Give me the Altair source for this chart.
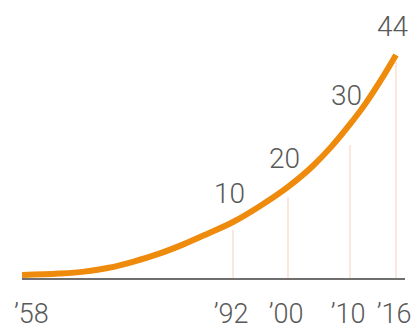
import altair as alt
import pandas as pd

# Curve (years and values)
curve_years = [1958, 1964, 1968, 1972, 1976, 1980, 1984, 1988, 1992,
               1996, 2000, 2004, 2007, 2010, 2012, 2014, 2016]
curve_values = [0.78, 1.06, 1.45, 2.2, 3.43, 4.93, 6.8, 8.95, 11.2,
                14.4, 18.1, 22.2, 26.0, 30.4, 34.4, 39.0, 44.0]

# Marked years, their labels and the heights of the thin guide lines
marked_years = [1992, 2000, 2010, 2016]
marked_labels = ["10", "20", "30", "44"]
guide_tops = [9.6, 16.1, 26.3, 42.6]

# Axis tick labels
tick_years = [1958, 1992, 2000, 2010, 2016]
tick_labels = ["\u201958", "\u201992", "\u201900", "\u201910", "\u201916"]

# Baseline extent
base_span = [1958, 2017.2]

curve_df = pd.DataFrame({"year": curve_years, "value": curve_values})
curve_lookup = dict(zip(curve_years, curve_values))
marks_df = pd.DataFrame({
    "year": marked_years,
    "label": marked_labels,
    "top": guide_tops,
    "curve": [curve_lookup[y] for y in marked_years],
})
base_df = pd.DataFrame({"x": [base_span[0]], "x2": [base_span[1]], "y": [0]})

label_expr = "{" + ",".join(f"'{y}':'{t}'" for y, t in zip(tick_years, tick_labels)) + "}[datum.value]"

FONT = "Roboto, 'DejaVu Sans', sans-serif"
TEXT_COLOR = "#595959"

# The illustration spaces its years unevenly: a piecewise-linear time axis
xscale = alt.Scale(domain=tick_years + [2018], range=[22, 233, 288, 350, 396, 411],
                   nice=False, zero=False)
yscale = alt.Scale(domain=[0, 54.8], nice=False, zero=False)

guides = alt.Chart(marks_df).mark_rule(color="#F8D8C6", strokeWidth=1.2).encode(
    x=alt.X("year:Q", scale=xscale,
            axis=alt.Axis(values=tick_years, labelExpr=label_expr, domain=False,
                          ticks=False, tickSize=0, grid=False, title=None,
                          labelFont=FONT, labelFontSize=27, labelFontWeight=300,
                          labelColor=TEXT_COLOR, labelOverlap=False,
                          labelPadding=22, labelFlush=10, labelFlushOffset=6,
                          labelOffset=-2.5, labelBaseline="top")),
    y=alt.Y("top:Q", scale=yscale, axis=None),
    y2=alt.datum(0),
)

baseline = alt.Chart(base_df).mark_rule(color="#6f6f6f", strokeWidth=2).encode(
    x=alt.X("x:Q", scale=xscale),
    x2="x2:Q",
    y=alt.Y("y:Q", scale=yscale),
)

line = alt.Chart(curve_df).mark_line(color="#EE8A0C", strokeWidth=6,
                                     interpolate="monotone").encode(
    x=alt.X("year:Q", scale=xscale),
    y=alt.Y("value:Q", scale=yscale),
)

labels = alt.Chart(marks_df).mark_text(font=FONT, fontSize=28, fontWeight=300,
                                       color=TEXT_COLOR,
                                       align="center", baseline="alphabetic",
                                       dx=-3.5, dy=-19).encode(
    x=alt.X("year:Q", scale=xscale),
    y=alt.Y("curve:Q", scale=yscale),
    text="label:N",
)

chart = alt.layer(guides, baseline, line, labels).properties(
    width=412, height=279,
    autosize=alt.AutoSizeParams(type="none"),
    padding={"left": 0, "top": 0, "right": 0, "bottom": 50},
    background="white",
).configure_view(stroke=None)

chart.save("out.html", embed_options={"renderer": "svg", "actions": False})
